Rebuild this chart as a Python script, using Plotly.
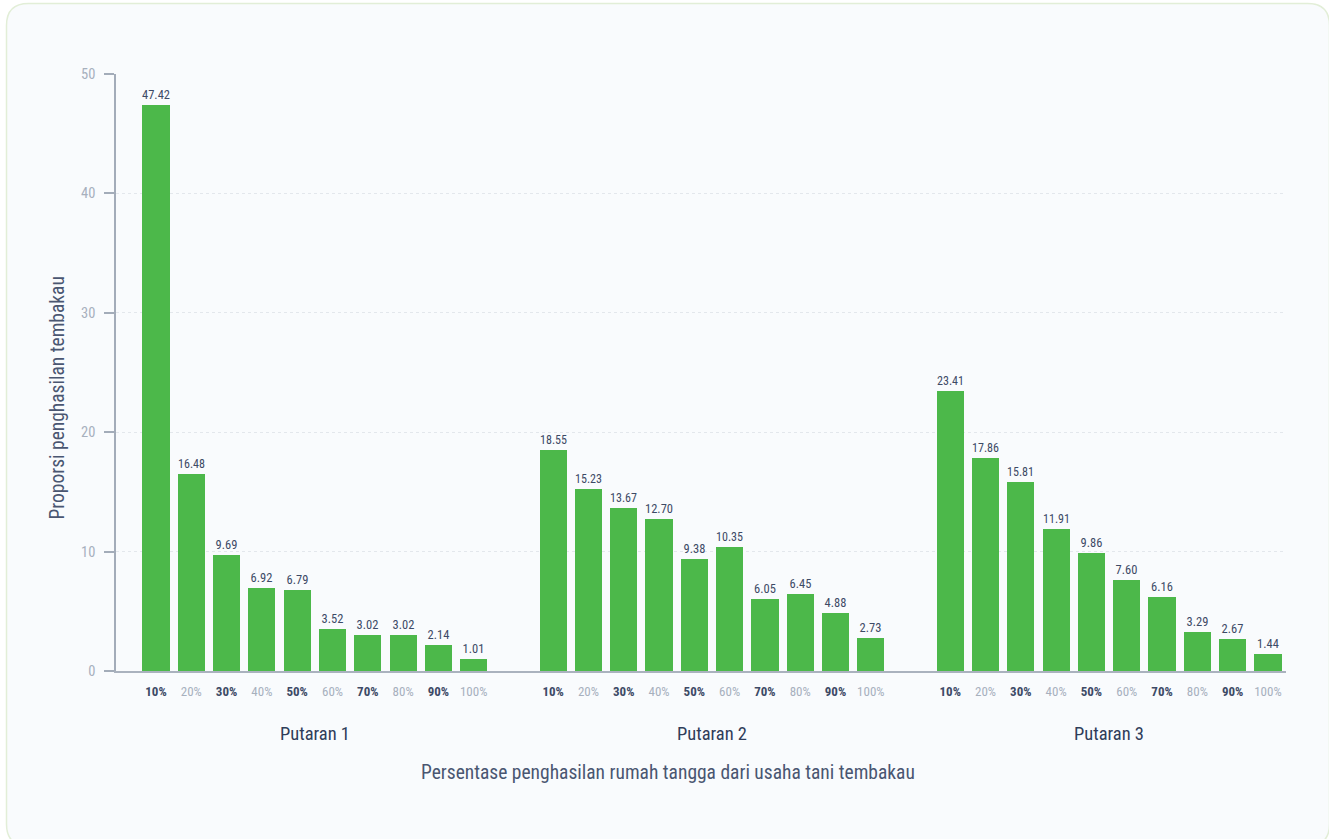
import plotly.graph_objects as go

# Income-share categories and survey rounds
categories = ["10%", "20%", "30%", "40%", "50%", "60%", "70%", "80%", "90%", "100%"]
rounds = ["Putaran 1", "Putaran 2", "Putaran 3"]

putaran_1 = [47.42, 16.48, 9.69, 6.92, 6.79, 3.52, 3.02, 3.02, 2.14, 1.01]
putaran_2 = [18.55, 15.23, 13.67, 12.70, 9.38, 10.35, 6.05, 6.45, 4.88, 2.73]
putaran_3 = [23.41, 17.86, 15.81, 11.91, 9.86, 7.60, 6.16, 3.29, 2.67, 1.44]
series = [putaran_1, putaran_2, putaran_3]

y_ticks = [0, 10, 20, 30, 40, 50]

# Layout constants
W, H = 1329, 839
ML, MR, MT, MB = 116, 43, 74, 168
PW, PH = W - ML - MR, H - MT - MB
GROUP_STEP = 11.25
FONT = "Liberation Sans Narrow, Roboto Condensed, Roboto, sans-serif"
GREEN = "#4cb84a"
DARK = "#3d4a66"
LIGHT = "#a7b0bd"
AXIS = "#a3acb9"


def px_to_paper_x(px):
    return (px - ML) / PW


def px_to_paper_y(py):
    return (H - MB - py) / PH


fig = go.Figure()

tickvals, ticktext = [], []
for g, (name, vals) in enumerate(zip(rounds, series)):
    xs = [g * GROUP_STEP + i for i in range(len(categories))]
    fig.add_trace(go.Bar(
        x=xs, y=vals, name=name, width=0.77,
        marker=dict(color=GREEN, line=dict(width=0)),
        text=[f"{v:.2f}" for v in vals],
        textposition="outside",
        textfont=dict(family=FONT, size=12.5, color=DARK),
        cliponaxis=False,
        hovertemplate=name + " – %{customdata}: %{y:.2f}<extra></extra>",
        customdata=categories,
    ))
    tickvals += xs
    for i, c in enumerate(categories):
        if i % 2 == 0:
            ticktext.append(f"<b>{c}</b>")
        else:
            ticktext.append(f"<span style='color:{LIGHT}'>{c}</span>")
    fig.add_annotation(
        x=g * GROUP_STEP + (len(categories) - 1) / 2, xref="x",
        y=px_to_paper_y(734), yref="paper", yanchor="middle",
        text=name, showarrow=False,
        font=dict(family=FONT, size=18.5, color="#2f3d5a"),
    )

# Card background with rounded corners
x0, x1 = px_to_paper_x(6.5), px_to_paper_x(1329.5)
y0, y1 = px_to_paper_y(3.5), px_to_paper_y(846)
rx, ry = 22 / PW, 22 / PH
card_path = (
    f"M {x0 + rx},{y0} L {x1 - rx},{y0} Q {x1},{y0} {x1},{y0 - ry} "
    f"L {x1},{y1 + ry} Q {x1},{y1} {x1 - rx},{y1} "
    f"L {x0 + rx},{y1} Q {x0},{y1} {x0},{y1 + ry} "
    f"L {x0},{y0 - ry} Q {x0},{y0} {x0 + rx},{y0} Z"
)
fig.add_shape(type="path", path=card_path, xref="paper", yref="paper",
              fillcolor="#f9fbfd", line=dict(color="#e2eed7", width=1.5),
              layer="below")

fig.add_annotation(
    x=px_to_paper_x(668), xref="paper", y=px_to_paper_y(786), yref="paper",
    text="Persentase penghasilan rumah tangga dari usaha tani tembakau",
    showarrow=False, font=dict(family=FONT, size=19.5, color="#4a5671"),
)
fig.add_annotation(
    x=px_to_paper_x(43), xref="paper", y=px_to_paper_y(398), yref="paper",
    text="Proporsi penghasilan tembakau", textangle=-90,
    showarrow=False, font=dict(family=FONT, size=19.5, color="#4a5671"),
)

fig.update_layout(
    width=W, height=H,
    margin=dict(l=ML, r=MR, t=MT, b=MB),
    paper_bgcolor="white", plot_bgcolor="rgba(0,0,0,0)",
    showlegend=False, bargap=0,
    font=dict(family=FONT),
    xaxis=dict(
        range=[-1.133, -1.133 + PW / 35.3],
        tickmode="array", tickvals=tickvals, ticktext=ticktext,
        tickfont=dict(family=FONT, size=13, color=DARK),
        showgrid=False, zeroline=False,
        showline=True, linecolor="#aab2be", linewidth=2,
        ticks="", ticklabelstandoff=7,
    ),
    yaxis=dict(
        range=[0, 50], tickmode="array", tickvals=y_ticks,
        tickfont=dict(family=FONT, size=14.5, color=LIGHT),
        showgrid=True, gridcolor="#e3e7ec", griddash="dot", gridwidth=1,
        zeroline=False, showline=True, linecolor=AXIS, linewidth=1.5,
        ticks="outside", ticklen=10, tickcolor=AXIS, tickwidth=1.5,
        ticklabelstandoff=6,
    ),
)

fig.write_html("out.html")
